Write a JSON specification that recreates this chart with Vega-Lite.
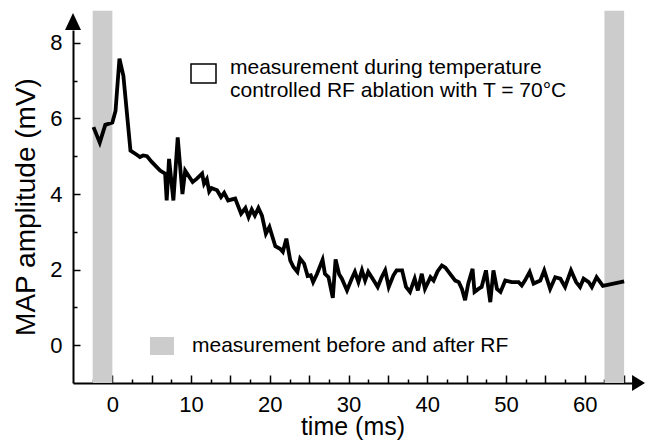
{
  "$schema": "https://vega.github.io/schema/vega-lite/v6.json",
  "width": 559,
  "height": 353,
  "autosize": {"type": "none"},
  "padding": {"left": 73, "top": 30, "right": 13, "bottom": 59},
  "background": "white",
  "config": {
    "view": {"stroke": null},
    "font": "Liberation Sans",
    "axis": {
      "grid": false,
      "domainColor": "black",
      "domainWidth": 2,
      "tickColor": "black",
      "tickWidth": 1.5,
      "labelColor": "black",
      "titleColor": "black",
      "labelFont": "Liberation Sans",
      "titleFont": "Liberation Sans",
      "labelFontSize": 22,
      "titleFontWeight": "normal"
    },
    "legend": {"labelFont": "Liberation Sans", "labelColor": "black", "padding": 0}
  },
  "resolve": {"axis": {"x": "independent"}},
  "datasets": {
    "bands": [
      {"start": -2.5, "end": 0, "phase": "measurement before and after RF"},
      {"start": 62.5, "end": 65, "phase": "measurement before and after RF"}
    ],
    "arrows": [
      {"t": 66.83, "v": -1, "dir": "right"},
      {"t": -5, "v": 8.565, "dir": "up"}
    ],
    "map": [
      {"t": -2.4, "v": 5.77}, {"t": -1.6, "v": 5.36}, {"t": -0.9, "v": 5.83}, {"t": 0, "v": 5.89},
      {"t": 0.4, "v": 6.2}, {"t": 0.9, "v": 7.58}, {"t": 1.4, "v": 7.13}, {"t": 2.3, "v": 5.15},
      {"t": 3.1, "v": 5.04}, {"t": 3.5, "v": 4.98}, {"t": 3.9, "v": 5.02}, {"t": 4.4, "v": 5.0},
      {"t": 5.0, "v": 4.85}, {"t": 6.06, "v": 4.62}, {"t": 6.7, "v": 4.54}, {"t": 6.9, "v": 3.83},
      {"t": 7.2, "v": 4.93}, {"t": 7.75, "v": 3.83}, {"t": 8.3, "v": 5.5}, {"t": 8.9, "v": 4.0},
      {"t": 9.25, "v": 4.62}, {"t": 10.2, "v": 4.32}, {"t": 10.7, "v": 4.4}, {"t": 11.4, "v": 4.54},
      {"t": 11.65, "v": 4.27}, {"t": 12.0, "v": 4.39}, {"t": 12.3, "v": 4.07}, {"t": 12.6, "v": 4.16},
      {"t": 13.3, "v": 4.1}, {"t": 13.8, "v": 3.92}, {"t": 14.2, "v": 4.03}, {"t": 14.7, "v": 3.83},
      {"t": 15.6, "v": 3.88}, {"t": 16.35, "v": 3.48}, {"t": 16.9, "v": 3.63}, {"t": 17.3, "v": 3.39},
      {"t": 17.7, "v": 3.59}, {"t": 18.1, "v": 3.43}, {"t": 18.55, "v": 3.63}, {"t": 19.0, "v": 3.43},
      {"t": 19.5, "v": 2.95}, {"t": 19.95, "v": 3.13}, {"t": 20.7, "v": 2.62}, {"t": 21.3, "v": 2.55},
      {"t": 21.65, "v": 2.47}, {"t": 22.1, "v": 2.82}, {"t": 22.6, "v": 2.24}, {"t": 23.0, "v": 2.07},
      {"t": 23.5, "v": 1.94}, {"t": 23.85, "v": 2.29}, {"t": 24.35, "v": 2.16}, {"t": 24.8, "v": 1.83},
      {"t": 25.2, "v": 1.85}, {"t": 25.5, "v": 1.67}, {"t": 26.0, "v": 1.89}, {"t": 26.7, "v": 2.26},
      {"t": 27.0, "v": 1.89}, {"t": 27.45, "v": 1.8}, {"t": 28.0, "v": 1.25}, {"t": 28.35, "v": 2.27},
      {"t": 28.8, "v": 1.88}, {"t": 29.15, "v": 1.76}, {"t": 29.8, "v": 1.45}, {"t": 30.4, "v": 1.76},
      {"t": 30.8, "v": 1.94}, {"t": 31.25, "v": 1.67}, {"t": 31.7, "v": 1.98}, {"t": 32.1, "v": 1.71},
      {"t": 32.5, "v": 1.94}, {"t": 33.2, "v": 1.71}, {"t": 33.7, "v": 1.54}, {"t": 34.2, "v": 1.8},
      {"t": 34.65, "v": 1.98}, {"t": 35.1, "v": 1.54}, {"t": 35.7, "v": 1.85}, {"t": 36.1, "v": 1.98},
      {"t": 36.8, "v": 1.98}, {"t": 37.3, "v": 1.54}, {"t": 37.8, "v": 1.41}, {"t": 38.4, "v": 1.76},
      {"t": 38.8, "v": 1.45}, {"t": 39.3, "v": 1.89}, {"t": 39.7, "v": 1.49}, {"t": 40.4, "v": 1.8},
      {"t": 40.8, "v": 1.71}, {"t": 41.3, "v": 1.95}, {"t": 41.85, "v": 2.11}, {"t": 42.3, "v": 2.05},
      {"t": 42.7, "v": 1.94}, {"t": 43.55, "v": 1.71}, {"t": 44.0, "v": 1.67}, {"t": 44.4, "v": 1.49},
      {"t": 44.8, "v": 1.19}, {"t": 45.2, "v": 1.63}, {"t": 45.75, "v": 2.02}, {"t": 46.0, "v": 1.41},
      {"t": 46.5, "v": 1.49}, {"t": 46.9, "v": 1.54}, {"t": 47.45, "v": 1.98}, {"t": 48.0, "v": 1.14},
      {"t": 48.4, "v": 1.98}, {"t": 48.85, "v": 1.49}, {"t": 49.3, "v": 1.41}, {"t": 49.9, "v": 1.71},
      {"t": 50.75, "v": 1.67}, {"t": 51.6, "v": 1.67}, {"t": 52.0, "v": 1.58}, {"t": 52.4, "v": 1.71},
      {"t": 53.0, "v": 1.94}, {"t": 53.5, "v": 1.63}, {"t": 54.35, "v": 1.71}, {"t": 54.85, "v": 1.98},
      {"t": 55.6, "v": 1.49}, {"t": 56.25, "v": 1.8}, {"t": 56.9, "v": 1.76}, {"t": 57.5, "v": 1.54},
      {"t": 58.25, "v": 1.98}, {"t": 58.9, "v": 1.67}, {"t": 59.4, "v": 1.54}, {"t": 59.85, "v": 1.76},
      {"t": 60.5, "v": 1.67}, {"t": 60.9, "v": 1.54}, {"t": 61.5, "v": 1.8}, {"t": 62.3, "v": 1.57},
      {"t": 63.2, "v": 1.61}, {"t": 65.0, "v": 1.69}
    ]
  },
  "layer": [
    {
      "data": {"name": "bands"},
      "mark": {"type": "rect"},
      "encoding": {
        "x": {
          "field": "start", "type": "quantitative",
          "scale": {"domain": [-5, 66], "nice": false, "zero": false},
          "axis": {
            "orient": "bottom",
            "values": [-2.5, 0, 2.5, 5, 7.5, 10, 12.5, 15, 17.5, 20, 22.5, 25, 27.5, 30, 32.5, 35, 37.5, 40, 42.5, 45, 47.5, 50, 52.5, 55, 57.5, 60, 62.5, 65],
            "labels": false,
            "title": null,
            "tickSize": {"condition": {"test": "abs(datum.value % 5) < 0.001", "value": -8}, "value": -4}
          }
        },
        "x2": {"field": "end"},
        "y": {
          "datum": -1, "type": "quantitative", "title": "MAP amplitude (mV)",
          "scale": {"domain": [-1, 8.34], "nice": false, "zero": false},
          "axis": {
            "values": [0, 1, 2, 3, 4, 5, 6, 7, 8],
            "labelExpr": "datum.value % 2 === 0 ? datum.label : ''",
            "tickSize": {"condition": {"test": "datum.value % 2 === 0", "value": -7}, "value": -4},
            "labelPadding": 18,
            "labelFlush": false,
            "labelOverlap": false,
            "titleFontSize": 28,
            "titlePadding": 9
          }
        },
        "y2": {"datum": 8.85},
        "fill": {
          "field": "phase", "type": "nominal",
          "scale": {"range": ["#cccccc"]},
          "legend": {
            "orient": "none", "legendX": 77, "legendY": 304, "title": null,
            "symbolType": "M-1,-0.75L1,-0.75L1,0.75L-1,0.75Z", "symbolSize": 576,
            "symbolStrokeWidth": 0, "labelFontSize": 21, "labelOffset": 18, "labelLimit": 500
          }
        }
      }
    },
    {
      "data": {"name": "map"},
      "mark": {"type": "line", "strokeWidth": 3.8, "strokeJoin": "miter"},
      "encoding": {
        "x": {
          "field": "t", "type": "quantitative", "title": "time (ms)",
          "axis": {
            "orient": "bottom",
            "values": [0, 10, 20, 30, 40, 50, 60],
            "ticks": false,
            "domain": false,
            "labelPadding": 11,
            "labelFlush": false,
            "labelOverlap": false,
            "titleFontSize": 25,
            "titlePadding": -1
          }
        },
        "y": {"field": "v", "type": "quantitative", "title": "MAP amplitude (mV)"},
        "stroke": {
          "datum": "measurement during temperature controlled RF ablation with T = 70°C",
          "type": "nominal",
          "scale": {"range": ["black"]},
          "legend": {
            "orient": "none", "legendX": 117, "legendY": 30, "title": null,
            "symbolType": "M-1,-0.76L1,-0.76L1,0.76L-1,0.76Z", "symbolSize": 625,
            "symbolStrokeWidth": 1.5, "symbolFillColor": "white", "symbolStrokeColor": "black",
            "labelFontSize": 21, "labelOffset": 13, "labelLimit": 500, "labelLineHeight": 22,
            "labelBaseline": "alphabetic",
            "labelExpr": "[slice(datum.label, 0, 30), slice(datum.label, 31)]"
          }
        }
      }
    },
    {
      "data": {"name": "arrows"},
      "mark": {"type": "point", "filled": true, "size": 289, "opacity": 1, "color": "black"},
      "encoding": {
        "x": {"field": "t", "type": "quantitative", "axis": null},
        "y": {"field": "v", "type": "quantitative", "title": "MAP amplitude (mV)"},
        "shape": {
          "field": "dir", "type": "nominal",
          "scale": {"domain": ["right", "up"], "range": ["M-0.765,-0.94L0.765,0L-0.765,0.94Z", "M-0.94,1L0,-1L0.94,1Z"]},
          "legend": null
        }
      }
    }
  ]
}
